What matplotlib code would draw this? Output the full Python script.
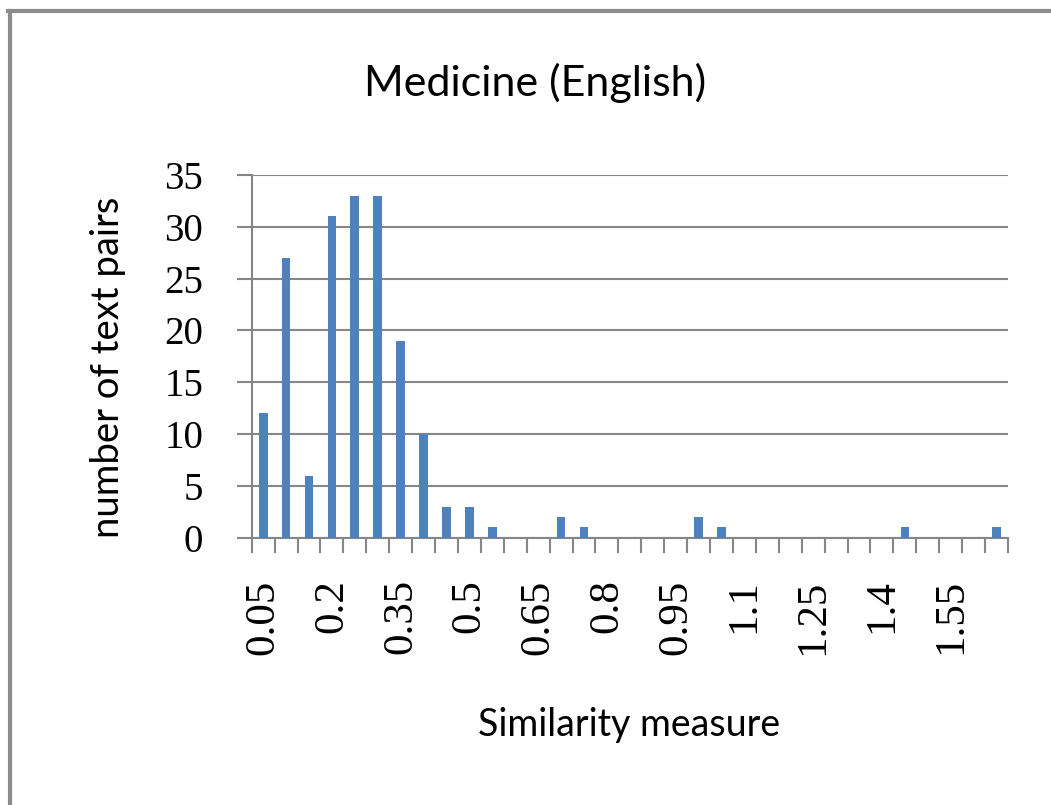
import matplotlib.pyplot as plt
import numpy as np
from matplotlib.lines import Line2D

# similarity bins (step 0.05) and counts
bins = [0.05, 0.1, 0.15, 0.2, 0.25, 0.3, 0.35, 0.4, 0.45, 0.5, 0.55,
        0.6, 0.65, 0.7, 0.75, 0.8, 0.85, 0.9, 0.95, 1.0, 1.05, 1.1,
        1.15, 1.2, 1.25, 1.3, 1.35, 1.4, 1.45, 1.5, 1.55, 1.6, 1.65]
counts = [12, 27, 6, 31, 33, 33, 19, 10, 3, 3, 1,
          0, 0, 2, 1, 0, 0, 0, 0, 2, 1, 0,
          0, 0, 0, 0, 0, 0, 1, 0, 0, 0, 1]
shown_labels = ["0.05", "0.2", "0.35", "0.5", "0.65", "0.8",
                "0.95", "1.1", "1.25", "1.4", "1.55"]

sans = "Lato"
serif = "Liberation Serif"
gray = "#868686"

fig = plt.figure(figsize=(10.51, 8.05), dpi=100)
ax = fig.add_axes([251.7 / 1051, 1 - 537.7 / 805, (1008 - 251.7) / 1051, (537.7 - 175) / 805])

x = np.arange(len(bins))
ax.bar(x, counts, width=0.38, color="#4F81BD", zorder=3)

ax.set_xlim(-0.5, len(bins) - 0.5)
ax.set_ylim(0, 35)
ax.set_yticks(range(0, 36, 5))
ax.yaxis.grid(True, color=gray, linewidth=1.5, zorder=0)

# major ticks on bin edges, labels on every 3rd bin centre
ax.set_xticks(np.arange(len(bins) + 1) - 0.5)
ax.set_xticklabels([])
ax.set_xticks(x[::3], minor=True)
ax.set_xticklabels(shown_labels, minor=True, rotation=90,
                   fontfamily=serif, fontsize=31)
ax.tick_params(axis="x", which="major", direction="out", length=11,
               width=1.5, color=gray)
ax.tick_params(axis="x", which="minor", length=0, pad=30)
ax.tick_params(axis="y", direction="out", length=11, width=1.5,
               color=gray, pad=24)
for lbl in ax.get_yticklabels():
    lbl.set_fontfamily(serif)
    lbl.set_fontsize(28)

for s in ["top", "right"]:
    ax.spines[s].set_visible(False)
for s in ["left", "bottom"]:
    ax.spines[s].set_color(gray)
    ax.spines[s].set_linewidth(1.5)

fig.text(535 / 1051, 1 - 83 / 805, "Medicine (English)", fontfamily=sans,
         fontsize=31, ha="center", va="center")
fig.text(629 / 1051, 1 - 725 / 805, "Similarity measure", fontfamily=sans,
         fontsize=27, ha="center", va="center")
fig.text(108 / 1051, 1 - 367 / 805, "number of text pairs", fontfamily=sans,
         fontsize=27.5, ha="center", va="center", rotation=90)

# outer frame (left and top edge visible)
fig.add_artist(Line2D([9.5 / 1051, 9.5 / 1051], [0, 1 - 11.5 / 805],
                      transform=fig.transFigure, color="#8c8c8c", linewidth=3))
fig.add_artist(Line2D([8 / 1051, 1], [1 - 11.5 / 805, 1 - 11.5 / 805],
                      transform=fig.transFigure, color="#8c8c8c", linewidth=3))

fig.savefig("out.png", dpi=100)
